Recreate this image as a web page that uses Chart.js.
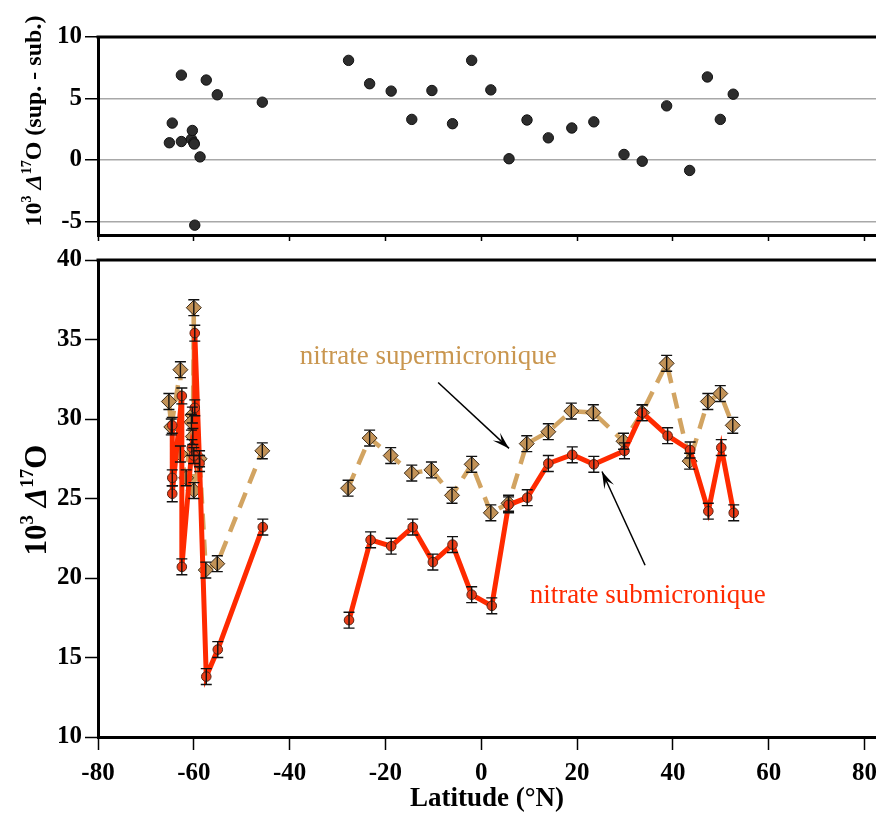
<!DOCTYPE html>
<html>
<head>
<meta charset="utf-8">
<script src="https://cdn.jsdelivr.net/npm/chart.js@4/dist/chart.umd.min.js"></script>
<style>
    body { margin: 0; background: #fff; }
    #wrap { position: relative; width: 876px; height: 816px; }
    #topChart { position: absolute; left: 0; top: 0; }
    #mainChart { position: absolute; left: 0; top: 245px; }
</style>
</head>
<body>
<div id="wrap">
    <canvas id="topChart" width="876" height="245"></canvas>
    <canvas id="mainChart" width="876" height="571"></canvas>
</div>
<script>
// Top panel: difference sup. - sub.
const diffLat = [-65.1, -64.5, -62.6, -62.6, -60.5, -60.3, -60.0, -59.9, -59.8, -58.7, -57.4, -55.1, -45.7,
    -27.7, -23.3, -18.8, -14.5, -10.3, -6.0, -2.0, 2.0, 5.8, 9.55, 14.0, 18.9, 23.5, 29.8, 33.6, 38.7, 43.5, 47.2, 49.9, 52.6];
const diffVal = [1.4, 3.0, 6.9, 1.5, 1.7, 2.4, 1.4, 1.3, -5.3, 0.25, 6.5, 5.3, 4.7,
    8.1, 6.2, 5.6, 3.3, 5.65, 2.95, 8.1, 5.7, 0.1, 3.25, 1.8, 2.6, 3.1, 0.45, -0.1, 4.4, -0.85, 6.75, 3.3, 5.35];

// Bottom panel: submicron nitrate (null = break in the line)
const subLat = [-64.5, -64.5, -64.5, -62.5, -62.5, -60.4, -60.0, -59.8, -59.8, -58.8, -57.4, -55.0, -45.6, null,
    -27.6, -23.1, -18.8, -14.3, -10.1, -6.0, -2.0, 2.2, 5.7, 9.6, 14.0, 19.0, 23.5, 29.9, 33.6, 38.9, 43.6, 47.4, 50.1, 52.7];
const subVal = [29.6, 26.3, 25.3, 31.45, 20.7, 28.2, 27.7, 30.7, 35.4, 27.2, 13.8, 15.5, 23.2, null,
    17.35, 22.4, 22.0, 23.2, 21.0, 22.1, 18.95, 18.25, 24.6, 25.05, 27.2, 27.75, 27.15, 28.0, 30.4, 28.95, 28.05, 24.2, 28.2, 24.1];

// supermicron nitrate
const supLat = [-65.2, -64.7, -62.8, -62.8, -61.6, -60.3, -60.5, -60.2, -60.0, -60.0, -58.8, -57.5, -55.1, -45.7, null,
    -27.8, -23.3, -18.9, -14.5, -10.4, -6.1, -2.0, 2.0, 5.7, 9.5, 14.0, 18.8, 23.4, 29.7, 33.6, 38.7, 43.5, 47.3, 49.9, 52.5];
const supVal = [31.1, 29.5, 33.1, 27.8, 26.3, 30.25, 29.8, 28.9, 37.0, 25.5, 27.5, 20.5, 20.9, 28.0, null,
    25.65, 28.8, 27.7, 26.6, 26.8, 25.2, 27.15, 24.1, 24.7, 28.45, 29.2, 30.5, 30.4, 28.6, 30.4, 33.5, 27.35, 31.1, 31.6, 29.6];

const errBar = 0.5;

// tick values
const latTicks = [-80, -60, -40, -20, 0, 20, 40, 60, 80];
const diffTicks = [-5, 0, 5, 10];
const mainTicks = [10, 15, 20, 25, 30, 35, 40];

// annotation anchors (data units)
const supNote = { text: 'nitrate supermicronique', lat: -37.9, val: 33.9 };
const subNote = { text: 'nitrate submicronique', lat: 10.1, val: 18.9 };
const supArrow = [[-9.0, 32.3], [5.8, 28.15]];
const subArrow = [[34.2, 20.8], [25.2, 26.7]];

// y titles: [text, superscript?, italic?]
const topTitle = [['10', 0, 0], ['3', 1, 0], [' ', 0, 0], ['Δ', 0, 1], ['17', 1, 0], ['O (sup. - sub.)', 0, 0]];
const mainTitle = [['10', 0, 0], ['3', 1, 0], [' ', 0, 0], ['Δ', 0, 1], ['17', 1, 0], ['O', 0, 0]];

const FONT = "'Liberation Serif', 'Times New Roman', serif";
const SUP_LINE = '#d2a462';
const SUP_FILL = '#c29257';
const SUP_TEXT = '#c9964f';
const SUB_LINE = '#ff2a00';
const SUB_FILL = '#ec3b16';

const toPoints = (xs, ys) => xs.map((x, i) => ({ x: x, y: ys[i] }));

// thick top border of each panel
const frameTop = {
    id: 'frameTop',
    afterDraw(chart) {
        const { ctx, chartArea } = chart;
        ctx.save();
        ctx.strokeStyle = '#000';
        ctx.lineWidth = 3;
        ctx.beginPath();
        ctx.moveTo(chartArea.left - 1.5, chartArea.top);
        ctx.lineTo(chart.width, chartArea.top);
        ctx.stroke();
        ctx.restore();
    }
};

// rotated y title with superscripts
function drawSideTitle(ctx, parts, cx, cy, size) {
    const supSize = Math.round(size * 0.6);
    const fontOf = p => `${p[2] ? 'italic ' : ''}bold ${p[1] ? supSize : size}px ${FONT}`;
    let total = 0;
    parts.forEach(p => { ctx.font = fontOf(p); total += ctx.measureText(p[0]).width; });
    ctx.save();
    ctx.translate(cx, cy);
    ctx.rotate(-Math.PI / 2);
    ctx.fillStyle = '#000';
    ctx.textBaseline = 'alphabetic';
    ctx.textAlign = 'left';
    let x = -total / 2;
    const base = size * 0.33;
    parts.forEach(p => {
        ctx.font = fontOf(p);
        ctx.fillText(p[0], x, p[1] ? base - size * 0.42 : base);
        x += ctx.measureText(p[0]).width;
    });
    ctx.restore();
}

const sideTitle = {
    id: 'sideTitle',
    afterDraw(chart, args, opts) {
        drawSideTitle(chart.ctx, opts.parts, opts.x, opts.y, opts.size);
    }
};

const errorBars = {
    id: 'errorBars',
    afterDatasetsDraw(chart) {
        const { ctx, scales: { x, y } } = chart;
        ctx.save();
        ctx.strokeStyle = '#111';
        ctx.lineWidth = 1.4;
        chart.data.datasets.forEach(ds => {
            ds.data.forEach(p => {
                if (p.y === null || p.x === null) return;
                const px = x.getPixelForValue(p.x);
                const y0 = y.getPixelForValue(p.y - errBar);
                const y1 = y.getPixelForValue(p.y + errBar);
                ctx.beginPath();
                ctx.moveTo(px, y0); ctx.lineTo(px, y1);
                ctx.moveTo(px - 5.5, y0); ctx.lineTo(px + 5.5, y0);
                ctx.moveTo(px - 5.5, y1); ctx.lineTo(px + 5.5, y1);
                ctx.stroke();
            });
        });
        ctx.restore();
    }
};

function drawArrow(ctx, x0, y0, x1, y1) {
    ctx.beginPath();
    ctx.moveTo(x0, y0);
    ctx.lineTo(x1, y1);
    ctx.stroke();
    const a = Math.atan2(y1 - y0, x1 - x0), L = 18, w = 0.3;
    ctx.beginPath();
    ctx.moveTo(x1, y1);
    ctx.lineTo(x1 - L * Math.cos(a - w), y1 - L * Math.sin(a - w));
    ctx.lineTo(x1 - 0.55 * L * Math.cos(a), y1 - 0.55 * L * Math.sin(a));
    ctx.lineTo(x1 - L * Math.cos(a + w), y1 - L * Math.sin(a + w));
    ctx.closePath();
    ctx.fill();
}

const notes = {
    id: 'notes',
    afterDraw(chart) {
        const { ctx, scales: { x, y } } = chart;
        ctx.save();
        ctx.font = `27px ${FONT}`;
        ctx.textBaseline = 'middle';
        ctx.textAlign = 'left';
        ctx.fillStyle = SUP_TEXT;
        ctx.fillText(supNote.text, x.getPixelForValue(supNote.lat), y.getPixelForValue(supNote.val));
        ctx.fillStyle = SUB_LINE;
        ctx.fillText(subNote.text, x.getPixelForValue(subNote.lat), y.getPixelForValue(subNote.val));
        ctx.strokeStyle = '#000';
        ctx.fillStyle = '#000';
        ctx.lineWidth = 1.5;
        [supArrow, subArrow].forEach(a => {
            drawArrow(ctx, x.getPixelForValue(a[0][0]), y.getPixelForValue(a[0][1]),
                x.getPixelForValue(a[1][0]), y.getPixelForValue(a[1][1]));
        });
        ctx.restore();
    }
};

const tickFont = { family: FONT, size: 25, weight: 'bold' };

const yAxisFit = s => { s.width = 98; s.paddingTop = 0; s.paddingBottom = 0; };

const latAxis = (height, showLabels) => ({
    type: 'linear',
    min: -80,
    max: 82.4,
    afterBuildTicks: s => { s.ticks = latTicks.map(v => ({ value: v })); },
    afterFit: s => { s.height = height; s.paddingLeft = 0; s.paddingRight = 0; },
    ticks: { display: showLabels, font: tickFont, color: '#000', padding: 9, maxRotation: 0 },
    grid: { drawOnChartArea: false, tickLength: showLabels ? 13 : 6, tickColor: '#000', tickWidth: 1.5 },
    border: { color: '#000', width: 3 }
});

new Chart(document.getElementById('topChart'), {
    type: 'scatter',
    data: {
        datasets: [{
            data: toPoints(diffLat, diffVal),
            backgroundColor: '#2d2d2d',
            borderColor: '#111',
            borderWidth: 1,
            pointRadius: 5.2
        }]
    },
    options: {
        responsive: false,
        animation: false,
        layout: { autoPadding: false, padding: { top: 37, left: 0, right: 0, bottom: 0 } },
        plugins: {
            legend: { display: false },
            tooltip: { enabled: false },
            sideTitle: { parts: topTitle, x: 33, y: 121, size: 24 }
        },
        scales: {
            x: latAxis(10, false),
            y: {
                min: -6.1,
                max: 10,
                afterBuildTicks: s => { s.ticks = diffTicks.map(v => ({ value: v })); },
                afterFit: yAxisFit,
                ticks: { font: tickFont, color: '#000', padding: 3 },
                grid: {
                    color: c => (c.tick && c.tick.value === 10) ? 'rgba(0,0,0,0)' : '#a8a8a8',
                    lineWidth: 1.5,
                    tickColor: '#000',
                    tickLength: 13,
                    tickWidth: 1.5
                },
                border: { color: '#000', width: 3 }
            }
        }
    },
    plugins: [frameTop, sideTitle]
});

new Chart(document.getElementById('mainChart'), {
    type: 'line',
    data: {
        datasets: [{
            label: 'submicron',
            data: toPoints(subLat, subVal),
            borderColor: SUB_LINE,
            borderWidth: 5,
            backgroundColor: SUB_FILL,
            pointBorderColor: '#5a2414',
            pointBorderWidth: 1,
            pointRadius: 4.8,
            pointStyle: 'circle',
            spanGaps: false,
            tension: 0
        }, {
            label: 'supermicron',
            data: toPoints(supLat, supVal),
            borderColor: SUP_LINE,
            borderWidth: 4.5,
            borderDash: [16, 10],
            backgroundColor: SUP_FILL,
            pointBorderColor: '#3a2a18',
            pointBorderWidth: 1,
            pointRadius: 7.5,
            pointStyle: 'rectRot',
            spanGaps: false,
            tension: 0
        }]
    },
    options: {
        responsive: false,
        animation: false,
        layout: { autoPadding: false, padding: { top: 15, left: 0, right: 0, bottom: 0 } },
        plugins: {
            legend: { display: false },
            tooltip: { enabled: false },
            sideTitle: { parts: mainTitle, x: 36, y: 255, size: 31 }
        },
        scales: {
            x: Object.assign(latAxis(79, true), {
                title: {
                    display: true,
                    text: 'Latitude (°N)',
                    font: { family: FONT, size: 27, weight: 'bold' },
                    color: '#000',
                    padding: { top: 0, bottom: 1 }
                }
            }),
            y: {
                min: 10,
                max: 40,
                afterBuildTicks: s => { s.ticks = mainTicks.map(v => ({ value: v })); },
                afterFit: yAxisFit,
                ticks: { font: tickFont, color: '#000', padding: 3 },
                grid: { drawOnChartArea: false, tickColor: '#000', tickLength: 13, tickWidth: 1.5 },
                border: { color: '#000', width: 3 }
            }
        }
    },
    plugins: [frameTop, errorBars, notes, sideTitle]
});
</script>
</body>
</html>
